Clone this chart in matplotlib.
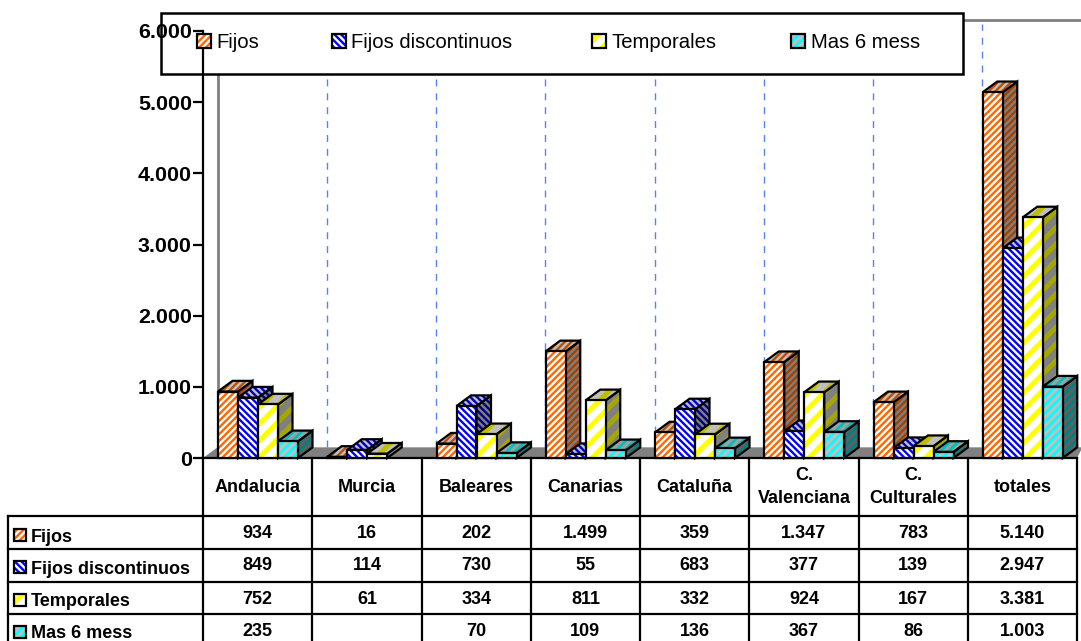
import matplotlib
matplotlib.use("Agg")
import matplotlib.pyplot as plt
from matplotlib.lines import Line2D
from matplotlib.patches import Polygon, Rectangle
from matplotlib.transforms import Affine2D

plt.rcParams["font.family"] = ["Liberation Sans", "DejaVu Sans"]

# data
categories = ["Andalucia", "Murcia", "Baleares", "Canarias", "Cataluña",
              "C.\nValenciana", "C.\nCulturales", "totales"]
series_names = ["Fijos", "Fijos discontinuos", "Temporales", "Mas 6 mess"]
fijos = [934, 16, 202, 1499, 359, 1347, 783, 5140]
discontinuos = [849, 114, 730, 55, 683, 377, 139, 2947]
temporales = [752, 61, 334, 811, 332, 924, 167, 3381]
mas6 = [235, None, 70, 109, 136, 367, 86, 1003]
y_ticks = [0, 1000, 2000, 3000, 4000, 5000, 6000]

W, H = 1081, 641
DEPTH_X = 14.5 / 109.25  # 3d offset in category units
DEPTH_Y = 150  # 3d offset in value units
BAR_W = 20 / 109.25
BAR_START = 15 / 109.25

# front, top, side colours as (stripe, background), hatch, hatch width
styles = [
    dict(front=("#ff6600", "white"), top=("#bf4d00", "#c0c0c0"),
         side=("#a64200", "#808080"), hatch="/////", lw=1.7),
    dict(front=("#0000ff", "white"), top=("#0000bf", "#c0c0c0"),
         side=("#000080", "#808080"), hatch="\\\\\\\\\\", lw=1.7),
    dict(front=("#ffff00", "white"), top=("#bfbf00", "#c0c0c0"),
         side=("#a6a600", "#808080"), hatch="//", lw=3.6),
    dict(front=("#00ffff", "#c0c0c0"), top=("#00bfbf", "#a0a0a0"),
         side=("#008080", "#606060"), hatch="////", lw=2.0),
]
values = [fijos, discontinuos, temporales, mas6]

fig = plt.figure(figsize=(W / 100, H / 100), dpi=100)
ax = fig.add_axes([203 / W, (H - 458) / H, (1077 - 203) / W, (458 - 31) / H])
ax.set_xlim(0, 8)
ax.set_ylim(0, 6000)
ax.patch.set_visible(False)
ax.set_axisbelow(False)
for name in ["top", "right"]:
    ax.spines[name].set_visible(False)
for name in ["left", "bottom"]:
    ax.spines[name].set_linewidth(1.6)
ax.set_xticks([])
ax.set_yticks(y_ticks)
ax.set_yticklabels([f"{v:,}".replace(",", ".") for v in y_ticks],
                   fontsize=15.4, fontweight="bold")
ax.tick_params(axis="y", length=7, width=1.6, pad=1)

# pixel coordinates of the reference, for legend and table
pix = Affine2D().scale(1, -1).translate(0, H)


def hatched(xy, stripe, back, hatch, lw, zorder, transform=None):
    plt.rcParams["hatch.linewidth"] = lw
    kw = dict(closed=True, clip_on=False, zorder=zorder)
    if transform is not None:
        kw["transform"] = transform
    ax.add_patch(Polygon(xy, facecolor=back, edgecolor=stripe, hatch=hatch,
                         linewidth=0, **kw))
    ax.add_patch(Polygon(xy, fill=False, edgecolor="black", linewidth=1.6, **kw))


def swatch(x, y, size, style, zorder):
    xy = [(x, y), (x + size, y), (x + size, y + size), (x, y + size)]
    stripe, back = style["front"]
    hatched(xy, stripe, back, style["hatch"], style["lw"], zorder, pix)


# walls and floor
top_wall = 6160
ax.add_patch(Polygon([(0, 0), (DEPTH_X, DEPTH_Y), (8.05, DEPTH_Y), (8, 0)],
                     facecolor="#808080", edgecolor="none", zorder=0.4, clip_on=False))
ax.add_line(Line2D([DEPTH_X, DEPTH_X], [DEPTH_Y, top_wall], color="#808080", lw=2,
                   zorder=0.5, clip_on=False))
ax.add_line(Line2D([DEPTH_X, 8.05], [top_wall, top_wall], color="#808080", lw=2,
                   zorder=0.5, clip_on=False))
for i in range(1, 8):
    ax.add_line(Line2D([i + DEPTH_X, i + DEPTH_X], [DEPTH_Y, top_wall - 60],
                       color="#5a82f0", lw=1.0, dashes=(5, 5), zorder=0.5, clip_on=False))

# legend box goes over the walls, but the value axis shows through it
ax.add_patch(Rectangle((161, 13), 802, 61, facecolor="white", edgecolor="black",
                       linewidth=1.8, transform=pix, zorder=1, clip_on=False))
legend_marks = [197, 332, 592, 791]
legend_text = [216, 351, 611, 811]
for name, style, mx, tx in zip(series_names, styles, legend_marks, legend_text):
    swatch(mx, 34, 14, style, 5)
    ax.text(tx, 42.5, name, transform=pix, fontsize=14.6, va="center", ha="left", zorder=5)

# bars, left to right so each one covers the side of the one before
for c in range(len(categories)):
    for s, style in enumerate(styles):
        v = values[s][c]
        if v is None:
            continue
        x0 = c + BAR_START + s * BAR_W
        x1 = x0 + BAR_W
        front = [(x0, 0), (x1, 0), (x1, v), (x0, v)]
        side = [(x1, 0), (x1 + DEPTH_X, DEPTH_Y), (x1 + DEPTH_X, v + DEPTH_Y), (x1, v)]
        top = [(x0, v), (x1, v), (x1 + DEPTH_X, v + DEPTH_Y), (x0 + DEPTH_X, v + DEPTH_Y)]
        hatched(side, *style["side"], style["hatch"], style["lw"], 3)
        hatched(top, *style["top"], style["hatch"], style["lw"], 3)
        hatched(front, *style["front"], style["hatch"], style["lw"], 3)

# data table
col_edges = [203 + 109.25 * i for i in range(9)]
row_edges = [516, 549, 582, 614]
row_text_y = [534, 566, 599, 631]
label_y = [537, 569, 601, 633]
mark_y = [529, 561, 594, 626]


def tline(xs, ys):
    ax.add_line(Line2D(xs, ys, color="black", lw=1.6, transform=pix, zorder=4,
                       clip_on=False, solid_capstyle="projecting"))


for i, x in enumerate(col_edges):
    tline([x, x], [458, H])
tline([8, 8], [516, H])
for y in row_edges:
    tline([8, 1077], [y, y])

for c, name in enumerate(categories):
    cx = (col_edges[c] + col_edges[c + 1]) / 2
    ax.text(cx, 487, name, transform=pix, fontsize=13, fontweight="bold",
            ha="center", va="center", linespacing=1.4, zorder=5)
    for s in range(len(values)):
        v = values[s][c]
        if v is not None:
            ax.text(cx, row_text_y[s], f"{v:,}".replace(",", "."), transform=pix,
                    fontsize=13, fontweight="bold", ha="center", va="center", zorder=5)

for s, name in enumerate(series_names):
    swatch(14, mark_y[s], 12, styles[s], 5)
    ax.text(31, label_y[s], name, transform=pix, fontsize=13, fontweight="bold",
            ha="left", va="center", zorder=5)

fig.savefig("out.png", dpi=100)
